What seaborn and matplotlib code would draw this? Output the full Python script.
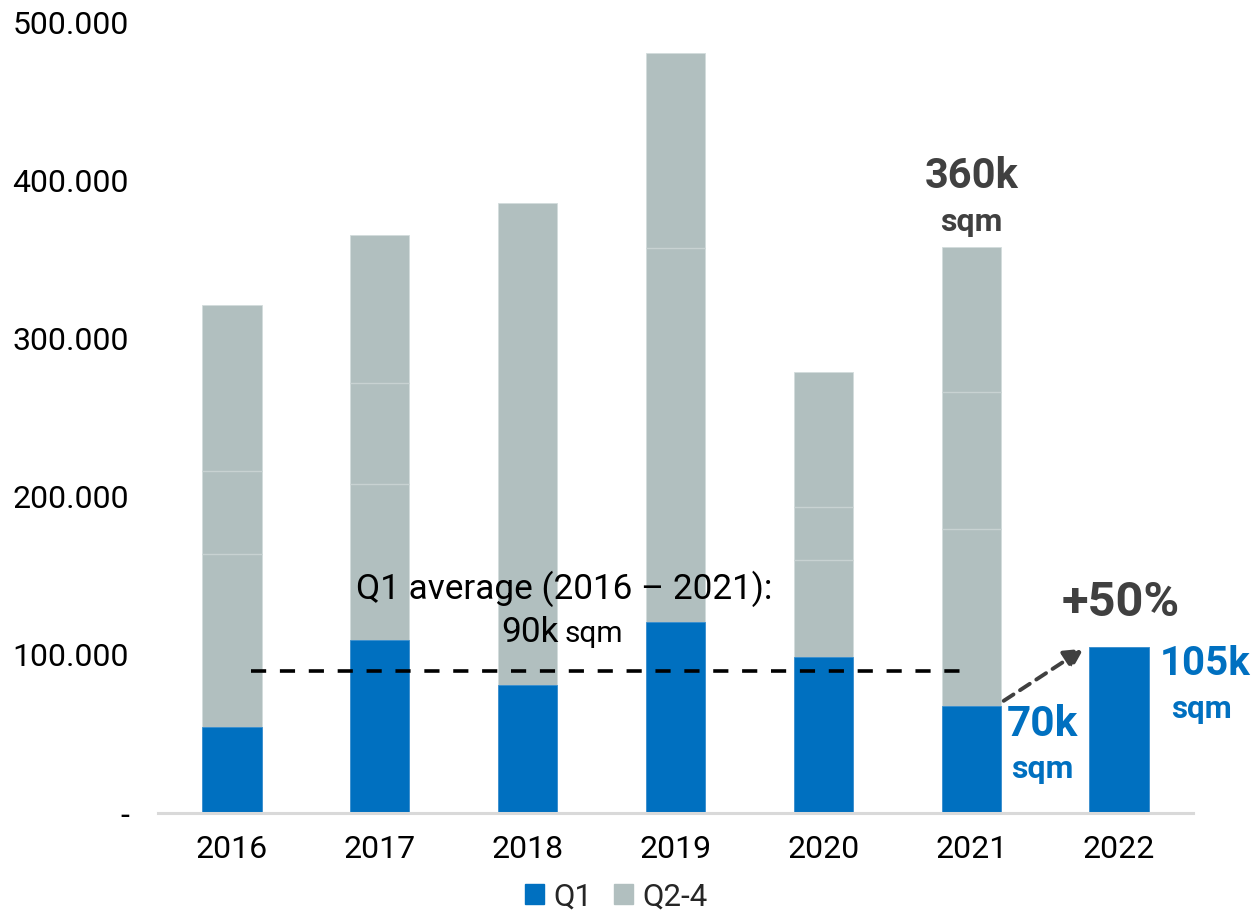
import numpy as np
import pandas as pd
import matplotlib
matplotlib.use("Agg")
import matplotlib.pyplot as plt
import seaborn as sns

# Take-up by year, in thousand sqm
years = ["2016", "2017", "2018", "2019", "2020", "2021", "2022"]
q1_take_up = [54.5, 109.5, 81, 121, 98.7, 68, 105]
full_year_take_up = [321.5, 366, 386, 481, 279, 358, 105]

# Cumulative quarter boundaries drawn inside the Q2-4 segment
quarter_breaks = [
    [164, 216.5],
    [208, 272],
    [],
    [357.5],
    [160, 193.5],
    [179.5, 266.5],
    [],
]

q1_average = 90          # Q1 average 2016-2021
y_ticks = [0, 100, 200, 300, 400, 500]

BLUE = "#0070C0"
GREY = "#B1BFBF"
SEP = "#C8D2D2"
DARK = "#404040"

sns.set_theme(style="white")
plt.rcParams["font.family"] = ["Roboto", "DejaVu Sans"]

df = pd.DataFrame({"year": years, "q1": q1_take_up, "total": full_year_take_up})

fig = plt.figure(figsize=(12.6, 9.17), dpi=100)
ax = fig.add_axes([0.1254, 0.1134, 0.8214, 0.8616])

sns.barplot(data=df, x="year", y="total", color=GREY, width=0.4, saturation=1,
            edgecolor="#D3DCDC", linewidth=0.6, ax=ax, label="Q2-4")
sns.barplot(data=df, x="year", y="q1", color=BLUE, width=0.4, saturation=1,
            edgecolor="#3A8FD0", linewidth=0.6, ax=ax, label="Q1")

for i, brks in enumerate(quarter_breaks):
    for b in brks:
        ax.hlines(b, i - 0.2, i + 0.2, color=SEP, linewidth=1.0, zorder=5)

ax.set_xlim(-0.5, 6.5)
ax.set_ylim(0, 500)
ax.set_yticks(y_ticks)
ax.set_yticklabels(["-" if v == 0 else f"{v * 1000:,}".replace(",", ".") for v in y_ticks])
ax.set_xlabel("")
ax.set_ylabel("")
ax.tick_params(axis="y", length=0, pad=21, labelsize=23, labelcolor="black")
ax.tick_params(axis="x", length=0, pad=16, labelsize=23, labelcolor="black")
for s in ["top", "right", "left"]:
    ax.spines[s].set_visible(False)
ax.spines["bottom"].set_color("#D9D9D9")
ax.spines["bottom"].set_linewidth(2.2)
ax.grid(False)

# Q1 average line
ax.hlines(q1_average, 0.13, 4.97, color="black", linewidth=2.6,
          linestyles=(0, (4.2, 3.8)), zorder=6)
ax.text(2.25, 142, "Q1 average (2016 \u2013 2021):", ha="center", va="center",
        fontsize=25.3, color="black")
ax.text(2.21, 108, f"{q1_average}k", ha="right", va="baseline", fontsize=25.3, color="black")
ax.text(2.25, 108, "sqm", ha="left", va="baseline", fontsize=21.5, color="black")


def k_label(v):
    return f"{int(round(v / 5.0) * 5)}k"


# Full-year 2021 label
ax.text(5.0, 403, k_label(full_year_take_up[5]), ha="center", va="center",
        fontsize=30, fontweight="bold", color=DARK)
ax.text(5.0, 374, "sqm", ha="center", va="center", fontsize=23, fontweight="bold", color=DARK)

# Q1 2021 vs Q1 2022
ax.text(5.48, 56, k_label(q1_take_up[5]), ha="center", va="center",
        fontsize=30.5, fontweight="bold", color=BLUE)
ax.text(5.48, 28, "sqm", ha="center", va="center", fontsize=23, fontweight="bold", color=BLUE)
ax.text(6.58, 94, k_label(q1_take_up[6]), ha="center", va="center",
        fontsize=29, fontweight="bold", color=BLUE)
ax.text(6.56, 66, "sqm", ha="center", va="center", fontsize=22.5, fontweight="bold", color=BLUE)

growth = (q1_take_up[6] / q1_take_up[5] - 1) * 100
ax.text(6.01, 133, f"+{int(round(growth / 10.0) * 10)}%", ha="center", va="center",
        fontsize=35, fontweight="bold", color=DARK)

ax.annotate("", xy=(5.76, 104), xytext=(5.22, 71),
            arrowprops=dict(arrowstyle="-|>,head_length=0.95,head_width=0.5",
                            color=DARK, lw=2.8, linestyle=(0, (3, 2)),
                            shrinkA=0, shrinkB=0))

handles = [plt.Rectangle((0, 0), 1, 1, color=BLUE), plt.Rectangle((0, 0), 1, 1, color=GREY)]
leg = ax.get_legend()
if leg is not None:
    leg.remove()
fig.legend(handles, ["Q1", "Q2-4"], loc="center", bbox_to_anchor=(0.489, 0.022),
           ncol=2, frameon=False, fontsize=22.5, handlelength=0.6, handleheight=0.6,
           handletextpad=0.3, columnspacing=0.7)

fig.savefig("out.png", dpi=100, facecolor="white")
